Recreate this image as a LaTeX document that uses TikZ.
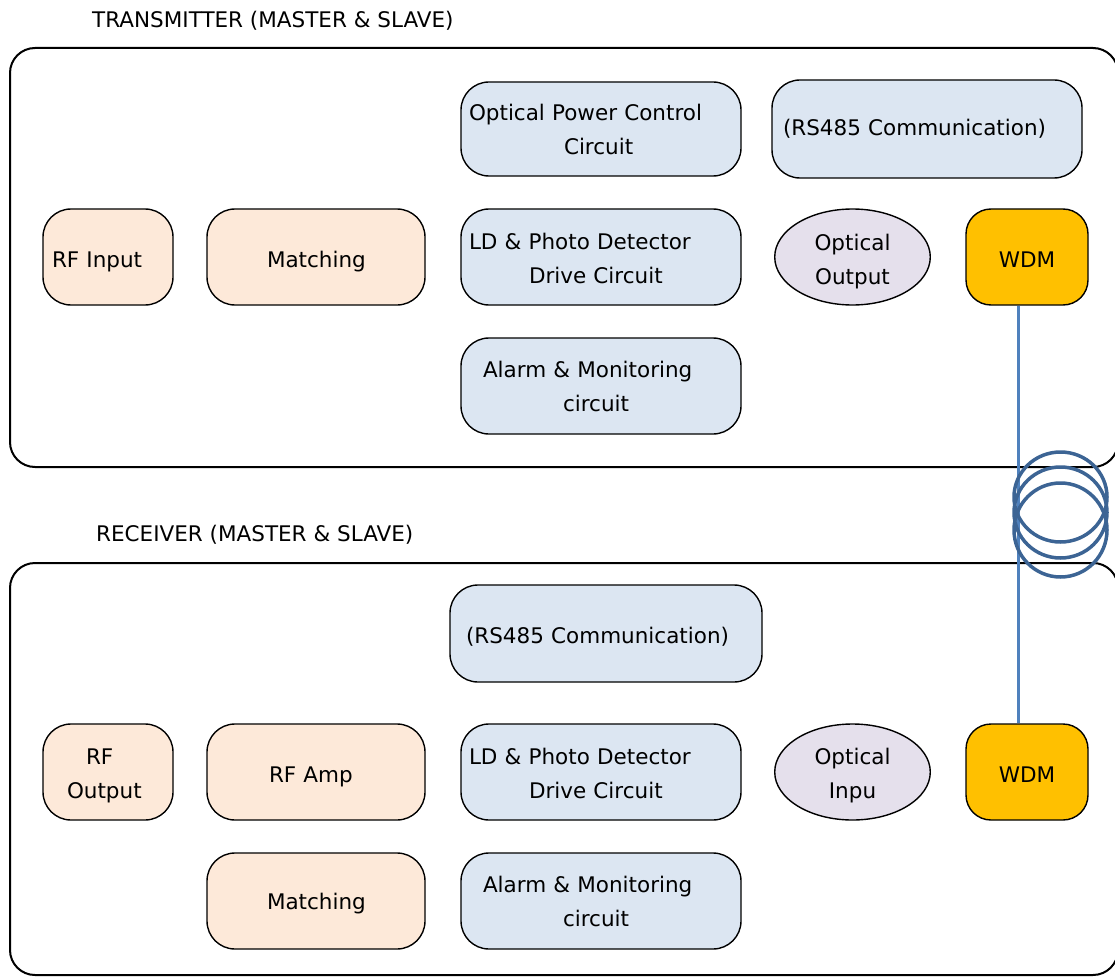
\documentclass[tikz,border=0pt]{standalone}
\usepackage{fontspec}
\setmainfont{DejaVu Sans}
\usetikzlibrary{shapes.geometric}
\definecolor{peach}{HTML}{FDE9D9}
\definecolor{paleblue}{HTML}{DCE6F2}
\definecolor{lavender}{HTML}{E5E0EC}
\definecolor{wdmgold}{HTML}{FFC000}
\definecolor{fiber}{HTML}{4F81BD}
\definecolor{coil}{HTML}{3C6494}
\newcommand\blkfont{\fontsize{21.5}{34}\selectfont\parindent=0pt\relax}
\newcommand\up[1]{\rule{0pt}{#1pt}}
\begin{document}
\begin{tikzpicture}[x=1pt,y=-1pt,
  outerbox/.style={draw=black, line width=2pt, rounded corners=25pt},
  blk/.style={draw=black, line width=1.4pt, rounded corners=28pt, inner sep=0pt,
    align=left, font=\blkfont},
  peachbox/.style={blk, fill=peach},
  bluebox/.style={blk, fill=paleblue},
  wdmbox/.style={draw=black, line width=1.4pt, rounded corners=25pt, inner sep=0pt,
    align=center, font=\blkfont, fill=wdmgold, minimum width=122pt, text width=122pt,
    minimum height=96pt},
  optic/.style={ellipse, draw=black, line width=1.4pt, inner sep=0pt, align=center,
    font=\blkfont, fill=lavender, minimum width=155pt, text width=110pt,
    minimum height=96pt},
  title/.style={anchor=west, inner sep=0pt, font=\fontsize{21.5}{26}\selectfont},
  fiberline/.style={draw=fiber, line width=3pt},
  coilline/.style={draw=coil, line width=3.5pt}
]
\useasboundingbox (0,0) rectangle (1115,976);
\clip (0,0) rectangle (1115,976);

% outer containers
\draw[outerbox] (10,48) rectangle (1118,467);
\draw[outerbox] (10,563) rectangle (1118,975);
\node[title] (ttx) at (92,21) {TRANSMITTER (MASTER \& SLAVE)};
\node[title] (trx) at (96,535) {RECEIVER (MASTER \& SLAVE)};

% transmitter blocks
\node[peachbox, minimum width=130pt, text width=130pt, minimum height=96pt] (rfin) at (108,257) {\up{24.5}\hspace*{9pt}RF Input};
\node[peachbox, minimum width=218pt, text width=218pt, minimum height=96pt] (matchT) at (316,257) {\up{24.5}\hspace*{60pt}Matching};
\node[bluebox, minimum width=280pt, text width=280pt, minimum height=94pt] (opc) at (601,129) {\up{16.5}\hspace*{8pt}Optical Power Control\\\hspace*{103pt}Circuit};
\node[bluebox, minimum width=310pt, text width=310pt, minimum height=98pt] (rsT) at (927,129) {\hspace*{11pt}(RS485 Communication)};
\node[bluebox, minimum width=280pt, text width=280pt, minimum height=96pt] (ldT) at (601,257) {\up{20}\hspace*{8pt}LD \& Photo Detector\\\hspace*{68pt}Drive Circuit};
\node[optic] (optout) at (852.5,257) {\up{26}Optical\\Output};
\node[wdmbox] (wdmT) at (1027,257) {\up{20.5}WDM};
\node[bluebox, minimum width=280pt, text width=280pt, minimum height=96pt] (alarmT) at (601,386) {\up{18}\hspace*{22pt}Alarm \& Monitoring\\\hspace*{102pt}circuit};

% receiver blocks
\node[bluebox, minimum width=312pt, text width=312pt, minimum height=97pt] (rsR) at (606,633.5) {\up{22.5}\hspace*{16pt}(RS485 Communication)};
\node[peachbox, minimum width=130pt, text width=130pt, minimum height=96pt] (rfout) at (108,772) {\up{23.5}\hspace*{43pt}RF\\\hspace*{24pt}Output};
\node[peachbox, minimum width=218pt, text width=218pt, minimum height=96pt] (rfamp) at (316,772) {\up{26}\hspace*{62pt}RF Amp};
\node[bluebox, minimum width=280pt, text width=280pt, minimum height=96pt] (ldR) at (601,772) {\up{19}\hspace*{8pt}LD \& Photo Detector\\\hspace*{68pt}Drive Circuit};
\node[optic] (optin) at (852.5,772) {\up{23.5}Optical\\Inpu};
\node[wdmbox] (wdmR) at (1027,772) {\up{20.5}WDM};
\node[peachbox, minimum width=218pt, text width=218pt, minimum height=96pt] (matchR) at (316,901) {\up{20.5}\hspace*{60pt}Matching};
\node[bluebox, minimum width=280pt, text width=280pt, minimum height=96pt] (alarmR) at (601,901) {\up{18}\hspace*{22pt}Alarm \& Monitoring\\\hspace*{102pt}circuit};

% fiber link with coil
\draw[fiberline] ([xshift=-9pt]wdmT.south) -- ([xshift=-9pt]wdmR.north);
\draw[coilline] (1060.5,497) ellipse [x radius=46.5, y radius=45];
\draw[coilline] (1060.5,512.5) ellipse [x radius=46.5, y radius=45.5];
\draw[coilline] (1060.5,530) ellipse [x radius=46.5, y radius=47];
\end{tikzpicture}
\end{document}
